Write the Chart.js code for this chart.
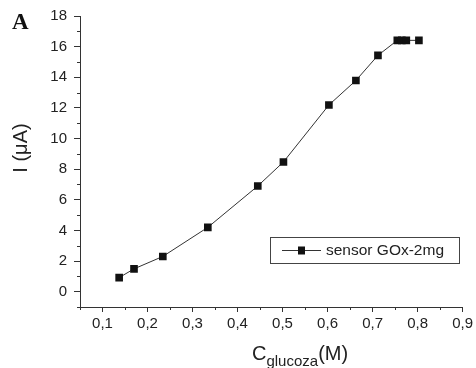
<!DOCTYPE html>
<html>
<head>
<meta charset="utf-8">
<script src="https://cdn.jsdelivr.net/npm/chart.js@4.4.1/dist/chart.umd.min.js"></script>
<style>
  html, body { margin: 0; padding: 0; background: #fff; }
  #wrap { width: 476px; height: 368px; position: relative; }
</style>
</head>
<body>
<div id="wrap"><canvas id="chart" width="476" height="368"></canvas></div>
<script>
// glucose concentration (M) and current (uA)
const concentration = [0.137, 0.170, 0.234, 0.334, 0.445, 0.502, 0.603, 0.663, 0.712, 0.755, 0.765, 0.775, 0.803];
const current = [0.92, 1.49, 2.30, 4.20, 6.90, 8.47, 12.19, 13.79, 15.43, 16.41, 16.41, 16.41, 16.41];
const seriesLabel = "sensor GOx-2mg";
const xTicks = [0.1, 0.2, 0.3, 0.4, 0.5, 0.6, 0.7, 0.8, 0.9];
const yTicks = [0, 2, 4, 6, 8, 10, 12, 14, 16, 18];
const xMinor = [0.05, 0.15, 0.25, 0.35, 0.45, 0.55, 0.65, 0.75, 0.85];
const yMinor = [-1, 1, 3, 5, 7, 9, 11, 13, 15, 17];

const AXIS = "#333";
const TEXT = "#222";
const FONT = "Liberation Sans, Arial, sans-serif";

const extras = {
  id: "extras",
  afterDraw(chart) {
    const { ctx, scales, chartArea } = chart;
    const x = scales.x, y = scales.y;
    ctx.save();
    // minor ticks
    ctx.strokeStyle = AXIS;
    ctx.lineWidth = 1;
    ctx.beginPath();
    xMinor.forEach((v) => {
      const px = Math.round(x.getPixelForValue(v)) + 0.5;
      ctx.moveTo(px, chartArea.bottom);
      ctx.lineTo(px, chartArea.bottom + 3);
    });
    yMinor.forEach((v) => {
      const py = Math.round(y.getPixelForValue(v)) + 0.5;
      ctx.moveTo(chartArea.left, py);
      ctx.lineTo(chartArea.left - 3, py);
    });
    ctx.stroke();

    // panel letter
    ctx.fillStyle = "#111";
    ctx.font = "bold 23px Liberation Serif, Times New Roman, serif";
    ctx.textBaseline = "alphabetic";
    ctx.textAlign = "left";
    ctx.fillText("A", 12, 28.5);

    // y title
    ctx.fillStyle = TEXT;
    ctx.save();
    ctx.translate(27, 148);
    ctx.rotate(-Math.PI / 2);
    ctx.font = "20px " + FONT;
    ctx.textAlign = "center";
    ctx.fillText("I (\u03bcA)", 0, 0);
    ctx.restore();

    // x title with subscript
    let tx = 252;
    ctx.textAlign = "left";
    ctx.font = "20px " + FONT;
    ctx.fillText("C", tx, 360);
    tx += ctx.measureText("C").width;
    ctx.font = "15px " + FONT;
    ctx.fillText("glucoza", tx, 366);
    tx += ctx.measureText("glucoza").width;
    ctx.font = "20px " + FONT;
    ctx.fillText("(M)", tx, 360);

    // legend
    const lx = 270, ly = 237, lw = 189, lh = 26;
    ctx.strokeStyle = "#444";
    ctx.strokeRect(lx + 0.5, ly + 0.5, lw, lh);
    const my = ly + 13.5;
    ctx.strokeStyle = AXIS;
    ctx.beginPath();
    ctx.moveTo(282, my);
    ctx.lineTo(321, my);
    ctx.stroke();
    ctx.fillStyle = "#111";
    ctx.fillRect(298, my - 4, 7, 8);
    ctx.fillStyle = TEXT;
    ctx.font = "15.5px " + FONT;
    ctx.textBaseline = "middle";
    ctx.fillText(seriesLabel, 326, my);
    ctx.restore();
  },
};

const fmt = (v) => String(v).replace(".", ",");

new Chart(document.getElementById("chart").getContext("2d"), {
  type: "line",
  data: {
    datasets: [{
      label: seriesLabel,
      data: concentration.map((c, i) => ({ x: c, y: current[i] })),
      borderColor: AXIS,
      borderWidth: 1,
      backgroundColor: "#111",
      pointStyle: "rect",
      pointRadius: 5.4,
      pointBorderColor: "#111",
      pointBorderWidth: 0,
      tension: 0,
    }],
  },
  plugins: [extras],
  options: {
    responsive: false,
    animation: false,
    layout: { padding: { top: 16, right: 13, left: 0, bottom: 0 } },
    plugins: { legend: { display: false }, tooltip: { enabled: false } },
    scales: {
      x: {
        type: "linear",
        min: 0.05,
        max: 0.9,
        afterBuildTicks: (s) => { s.ticks = xTicks.map((v) => ({ value: v })); },
        afterFit: (s) => { s.height = 61; },
        ticks: { callback: fmt, color: TEXT, font: { family: FONT, size: 15 }, padding: 3, maxRotation: 0 },
        grid: { drawOnChartArea: false, drawTicks: true, tickLength: 5, color: AXIS },
        border: { display: true, color: AXIS, width: 1 },
      },
      y: {
        type: "linear",
        min: -1,
        max: 18,
        afterBuildTicks: (s) => { s.ticks = yTicks.map((v) => ({ value: v })); },
        afterFit: (s) => { s.width = 80; },
        ticks: { color: TEXT, font: { family: FONT, size: 15 }, padding: 7 },
        grid: { drawOnChartArea: false, drawTicks: true, tickLength: 6, color: AXIS },
        border: { display: true, color: AXIS, width: 1 },
      },
    },
  },
});
</script>
</body>
</html>
